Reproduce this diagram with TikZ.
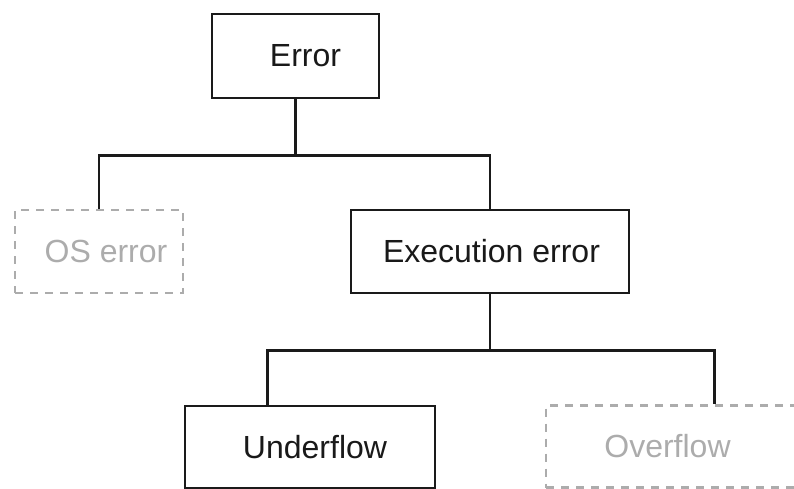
\documentclass[tikz,border=0pt]{standalone}
\usepackage{fontspec}
\setmainfont{Liberation Sans}
\usetikzlibrary{calc}
\definecolor{inkline}{RGB}{26,26,26}
\definecolor{ghost}{RGB}{172,172,172}
\begin{document}
\begin{tikzpicture}[x=1pt,y=-1pt,
  box/.style={draw=inkline,line width=2.6pt,rectangle,inner sep=0pt,
    font=\fontsize{32}{36}\selectfont,text=black!90},
  ghostbox/.style={draw=ghost,line width=2.6pt,rectangle,inner sep=0pt,
    dash pattern=on 8pt off 7pt,
    font=\fontsize{32}{36}\selectfont,text=ghost},
  link/.style={draw=inkline,line width=2.6pt}]
  \useasboundingbox (0,0) rectangle (794,488);
  \clip (0,0) rectangle (794,488);

  % tree nodes
  \node[box,minimum width=167pt,minimum height=84pt] (err) at (295.5,56) {\hspace*{20pt}Error};
  \node[ghostbox,minimum width=168pt,minimum height=83pt] (os) at (99,251.5) {\hspace*{14pt}OS error};
  \node[box,minimum width=278pt,minimum height=83pt] (exe) at (490,251.5) {\hspace*{3pt}Execution error};
  \node[box,minimum width=250pt,minimum height=82pt] (und) at (310,447) {\hspace*{10pt}Underflow};
  \node[ghostbox,minimum width=250pt,minimum height=82pt] (ovf) at (671,446.5) {\hspace*{-7pt}Overflow};

  % attachment points on the lower row
  \coordinate (undtap) at ($(und.north west)!0.332!(und.north east)$);
  \coordinate (ovftap) at ($(ovf.north west)!0.672!(ovf.north east)$);

  % connectors
  \draw[link] (err.south) -- ($(err.south)+(0,56)$) coordinate (bar1);
  \draw[link] (os.north) |- (bar1) -| (exe.north);
  \draw[link] (exe.south) -- ($(exe.south)+(0,56)$) coordinate (bar2);
  \draw[link] (undtap) |- (bar2) -| (ovftap);
\end{tikzpicture}
\end{document}
